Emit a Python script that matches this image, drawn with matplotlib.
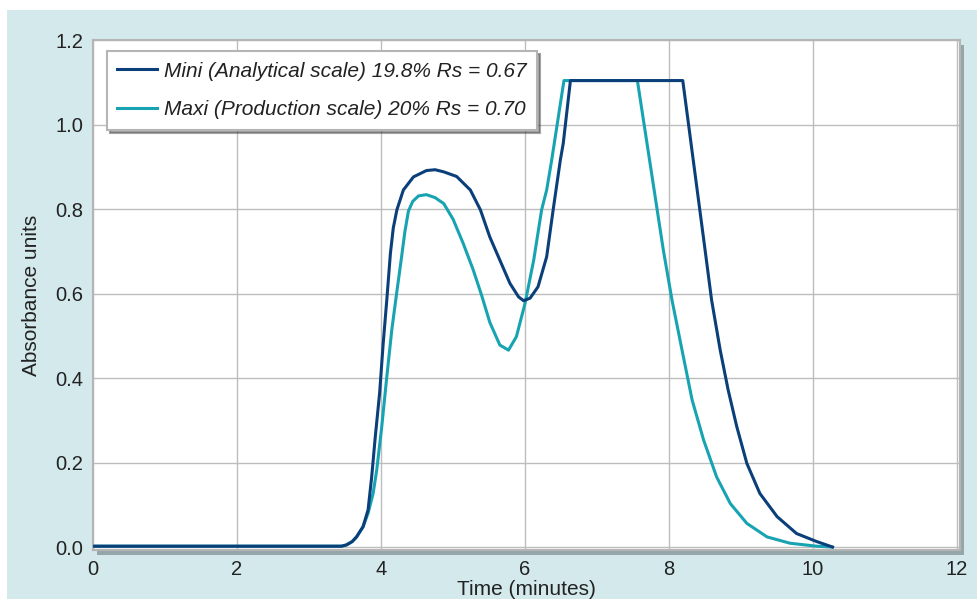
import numpy as np
import matplotlib as mpl
import matplotlib.pyplot as plt
from matplotlib.patches import Rectangle

mpl.rcParams['font.family'] = ['Liberation Sans', 'DejaVu Sans']

# values
mini_t = [0, 3.45, 3.52, 3.60, 3.66, 3.75, 3.82, 3.87, 3.92, 3.98, 4.03, 4.08, 4.13, 4.17, 4.22,
          4.31, 4.45, 4.63, 4.75, 4.87, 5.05, 5.24, 5.38, 5.51, 5.65, 5.79, 5.91,
          5.98, 6.07, 6.18, 6.30, 6.39, 6.49, 6.53, 6.63,
          8.19, 8.50, 8.59, 8.71, 8.82, 8.94, 9.08, 9.26, 9.50, 9.77, 10.05, 10.27]
mini_y = [0.002, 0.002, 0.005, 0.013, 0.024, 0.048, 0.088, 0.166, 0.261, 0.364, 0.482, 0.585, 0.695, 0.755, 0.798,
          0.845, 0.876, 0.891, 0.893, 0.888, 0.877, 0.845, 0.798, 0.734, 0.679, 0.624, 0.592,
          0.583, 0.589, 0.616, 0.687, 0.798, 0.916, 0.955, 1.104,
          1.104, 0.703, 0.585, 0.466, 0.372, 0.285, 0.198, 0.127, 0.072, 0.032, 0.013, 0.0]

maxi_t = [0, 3.45, 3.52, 3.60, 3.66, 3.75, 3.82, 3.89, 3.94, 4.01, 4.08, 4.15, 4.22, 4.28, 4.33,
          4.38, 4.44, 4.52, 4.63, 4.75, 4.87, 5.00, 5.14, 5.28, 5.40, 5.51, 5.65, 5.77, 5.88,
          6.00, 6.12, 6.23, 6.30, 6.37, 6.54,
          7.56, 7.92, 8.04, 8.18, 8.32, 8.48, 8.66, 8.85, 9.08, 9.36, 9.68, 10.05, 10.26]
maxi_y = [0.002, 0.002, 0.005, 0.013, 0.024, 0.048, 0.08, 0.127, 0.182, 0.285, 0.403, 0.515, 0.605, 0.68, 0.745,
          0.795, 0.818, 0.831, 0.834, 0.827, 0.813, 0.776, 0.719, 0.656, 0.594, 0.532, 0.478, 0.466, 0.498,
          0.577, 0.679, 0.798, 0.845, 0.916, 1.104,
          1.104, 0.703, 0.585, 0.466, 0.348, 0.253, 0.166, 0.103, 0.056, 0.024, 0.009, 0.002, 0.0]

labels = ["Mini (Analytical scale) 19.8% Rs = 0.67",
          "Maxi (Production scale) 20% Rs = 0.70"]
colors = ["#0a3f7a", "#17a3b1"]

fig = plt.figure(figsize=(9.77, 5.99), dpi=100, facecolor="white")
# light blue panel behind everything
fig.patches.append(Rectangle((7/977, 0), 1, 1 - 10/599, transform=fig.transFigure,
                             facecolor="#d3e9ec", edgecolor="none", zorder=-3))

left, right, bottom, top = 93/977, 960/977, 1 - 550/599, 1 - 40/599
# shadow of plot panel
fig.patches.append(Rectangle((left + 4/977, bottom - 5/599), right - left, top - bottom,
                             transform=fig.transFigure, facecolor="#7d8a8c",
                             edgecolor="none", alpha=0.7, zorder=-2))
ax = fig.add_axes([left, bottom, right - left, top - bottom])
ax.set_facecolor("white")

ax.plot(mini_t, mini_y, color=colors[0], lw=2.2, label=labels[0], zorder=3,
        solid_joinstyle="round")
ax.plot(maxi_t, maxi_y, color=colors[1], lw=2.2, label=labels[1], zorder=2,
        solid_joinstyle="round")

ax.set_xlim(0, 12.04)
ax.set_ylim(-0.007, 1.2)
ax.set_xticks([0, 2, 4, 6, 8, 10, 12])
ax.set_yticks([0.0, 0.2, 0.4, 0.6, 0.8, 1.0, 1.2])
ax.set_yticklabels(["0.0", "0.2", "0.4", "0.6", "0.8", "1.0", "1.2"])
ax.grid(True, color="#bdbdbd", lw=1)
ax.set_axisbelow(True)
ax.tick_params(length=0, labelsize=14.5, colors="#222222", pad=7)
for s in ax.spines.values():
    s.set_color("#b5b5b5")
    s.set_linewidth(1.5)

ax.set_xlabel("Time (minutes)", fontsize=15, color="#222222", labelpad=1)
ax.set_ylabel("Absorbance units", fontsize=15, color="#222222", labelpad=10)

leg = ax.legend(loc="upper left", bbox_to_anchor=(0.016, 0.978), prop={"size": 15, "style": "italic"},
                fancybox=False, shadow=True, frameon=True, handlelength=1.9,
                handletextpad=0.35, borderpad=0.5, labelspacing=0.95, borderaxespad=0)
leg.get_frame().set_edgecolor("#b5b5b5")
leg.get_frame().set_linewidth(1.5)
for t in leg.get_texts():
    t.set_color("#222222")

fig.savefig("out.png", dpi=100)
